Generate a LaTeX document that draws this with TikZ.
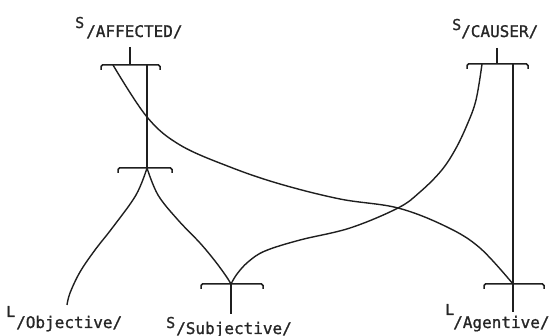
\documentclass[tikz,border=0pt]{standalone}
\usepackage{fontspec}
\newfontfamily\tw[FakeBold=1.2]{DejaVu Sans Mono}
\begin{document}
\begin{tikzpicture}[x=1pt,y=-1pt,
  ink/.style={draw=black!88, line width=1.5pt},
  curve/.style={ink, line width=1.4pt},
  brk/.style={ink, rounded corners=1.5pt},
  mainlbl/.style={anchor=base west, inner sep=0pt, font=\tw\fontsize{15}{16}\selectfont, text=black!85},
  sublbl/.style={anchor=base west, inner sep=0pt, font=\tw\fontsize{16}{18}\selectfont, text=black!85}]
\useasboundingbox (0,0) rectangle (554,336);

% labels
\node[mainlbl] (saffS) at (75,28) {S};
\node[sublbl]  (saffsub) at (86,37) {/AFFECTED/};
\node[mainlbl] (scauS) at (452,30) {S};
\node[sublbl]  (scausub) at (461,37) {/CAUSER/};
\node[mainlbl] (lobjL) at (6,317) {L};
\node[sublbl]  (lobjsub) at (16,328) {/Objective/};
\node[mainlbl] (ssubS) at (166,328) {S};
\node[sublbl]  (ssubsub) at (176,334) {/Subjective/};
\node[mainlbl] (lagtL) at (445,315) {L};
\node[sublbl]  (lagtsub) at (453,328) {/Agentive/};

% key points
\coordinate (affB) at (130,65);
\coordinate (affT) at (130,47);
\coordinate (affL) at (113,65);
\coordinate (affR) at (147,65);
\coordinate (cauB) at (497,64);
\coordinate (cauT) at (497,48);
\coordinate (cauL) at (482,64);
\coordinate (cauR) at (513,64);
\coordinate (midB) at (147,168);
\coordinate (subB) at (231,284);
\coordinate (subE) at (231,314);
\coordinate (agtB) at (513,284);
\coordinate (agtE) at (513,312);
\coordinate (objE) at (67,305);

% brackets
\draw[brk] (101,70) -- (101,65) -- (160,65) -- (160,70);
\draw[ink] (affT) -- (affB);
\draw[brk] (467,69) -- (467,64) -- (528,64) -- (528,69);
\draw[ink] (cauT) -- (cauB);
\draw[brk] (118,173) -- (118,168) -- (172,168) -- (172,173);
\draw[brk] (201,289) -- (201,284) -- (263,284) -- (263,289);
\draw[ink] (subB) -- (subE);
\draw[brk] (484,289) -- (484,284) -- (544,284) -- (544,289);
\draw[ink] (agtB) -- (agtE);

% straight connectors
\draw[ink] (affR) -- (midB);
\draw[ink] (cauR) -- (agtB);

% curves
\draw[curve] plot[smooth, tension=0.6] coordinates {(affL) (147,117) (180,145) (230,167) (280,184) (340,199) (398,208) (447,227) (480,248) (agtB)};
\draw[curve] plot[smooth, tension=0.6] coordinates {(cauL) (476,100) (467,125) (455,150) (441,171) (420,192) (398,208) (350,228) (300,240) (265,251) (248,262) (237,274) (subB)};
\draw[curve] plot[smooth, tension=0.6] coordinates {(midB) (136,195) (113,227) (95,250) (80,272) (70,293) (objE)};
\draw[curve] plot[smooth, tension=0.6] coordinates {(midB) (158,195) (178,220) (200,243) (215,261) (226,276) (subB)};
\end{tikzpicture}
\end{document}
